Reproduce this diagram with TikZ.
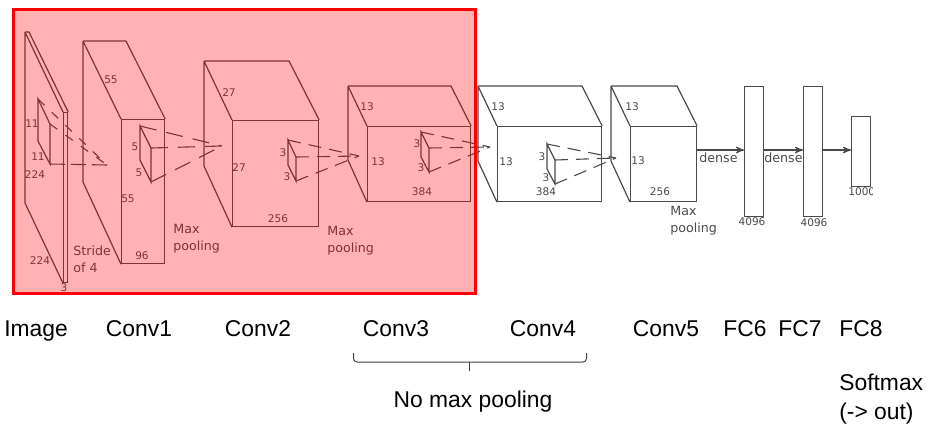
\documentclass[tikz,border=0pt]{standalone}
\usepackage{fontspec}
\setmainfont{Liberation Sans}
\newfontfamily\netfont{DejaVu Sans}
\usetikzlibrary{arrows}
\definecolor{netline}{HTML}{4A4A4A}
\tikzset{
  >=stealth',
  x=0.02cm,
  y=-0.02cm,
  every edge/.style={draw=netline, line width=1.2*0.02cm},
  net/.style={draw=netline, line width=1.2*0.02cm},
  face/.style args={#1x#2}{net, anchor=north west, inner sep=0pt, minimum width=#1*0.02cm, minimum height=#2*0.02cm},
  rays/.style args={#1off#2}{draw=netline, line width=1.1*0.02cm, dash pattern=on #1*0.02cm off #2*0.02cm},
  dim/.style={text=netline, font=\netfont\fontsize{6}{7}\selectfont, inner sep=0pt},
  note/.style={text=netline, font=\netfont\fontsize{7.2}{9.6}\selectfont, inner sep=0pt, align=left, anchor=west},
  caption/.style={font=\fontsize{13}{16.4}\selectfont, inner sep=0pt, anchor=base},
  bracket/.style={draw=black!75, line width=0.02cm, rounded corners=0.07cm},
}

\begin{document}
\begin{tikzpicture}
        \useasboundingbox (0,0) rectangle (927,427);

        % image plate
        \node[face=4x170] (imf) at (63,112) {};
        \coordinate (ima) at (25,32);
        \coordinate (imb) at (29,32);
        \coordinate (imc) at (25,203);
        \coordinate (ika) at (38,99);
        \coordinate (ikb) at (50,124);
        \coordinate (ikc) at (50,164);
        \coordinate (ikd) at (38,141);
        \coordinate (ito) at (107,165);
        \draw[net] (ima) -- (imb) -- (imf.north east)
                   (ima) -- (imf.north west)
                   (ima) -- (imc) -- (imf.south west);
        \draw[net] (ika) -- (ikb) -- (ikc) -- (ikd) -- cycle;
        \draw[rays=9off10] (ika) -- (ito) (ikb) -- (ito);
        \draw[rays=15off6] (ikc) -- (ito);

        % conv1
        \node[face=43x144] (c1f) at (121,119) {};
        \coordinate (c1a) at (83,41);
        \coordinate (c1b) at (126,41);
        \coordinate (c1c) at (83,182);
        \coordinate (c1p) at (140,126);
        \coordinate (c1q) at (151,148);
        \coordinate (c1r) at (151,182);
        \coordinate (c1s) at (140,160);
        \coordinate (c1to) at (222,146);
        \draw[net] (c1a) -- (c1b) -- (c1f.north east)
                   (c1a) -- (c1f.north west)
                   (c1a) -- (c1c) -- (c1f.south west);
        \draw[net] (c1p) -- (c1q) -- (c1r) -- (c1s) -- cycle;
        \draw[rays=17off10] (c1p) -- (c1to) (c1q) -- (c1to) (c1r) -- (c1to);

        % conv2
        \node[face=86x106] (c2f) at (232,120) {};
        \coordinate (c2a) at (204,61);
        \coordinate (c2b) at (289,61);
        \coordinate (c2c) at (204,166);
        \coordinate (c2p) at (288,140);
        \coordinate (c2q) at (296,157);
        \coordinate (c2r) at (296,181);
        \coordinate (c2s) at (288,165);
        \coordinate (c2to) at (359,156);
        \draw[net] (c2a) -- (c2b) -- (c2f.north east)
                   (c2a) -- (c2f.north west)
                   (c2a) -- (c2c) -- (c2f.south west);
        \draw[net] (c2p) -- (c2q) -- (c2r) -- (c2s) -- cycle;
        \draw[rays=13off8] (c2p) -- (c2to) (c2q) -- (c2to) (c2r) -- (c2to);

        % conv3
        \node[face=103x75] (c3f) at (367,126) {};
        \coordinate (c3a) at (348,86);
        \coordinate (c3b) at (451,86);
        \coordinate (c3c) at (348,160);
        \coordinate (c3p) at (421,132);
        \coordinate (c3q) at (429,148);
        \coordinate (c3r) at (429,172);
        \coordinate (c3s) at (421,157);
        \coordinate (c3to) at (490,147);
        \draw[net] (c3a) -- (c3b) -- (c3f.north east)
                   (c3a) -- (c3f.north west)
                   (c3a) -- (c3c) -- (c3f.south west);
        \draw[net] (c3p) -- (c3q) -- (c3r) -- (c3s) -- cycle;
        \draw[rays=13off8] (c3p) -- (c3to) (c3q) -- (c3to) (c3r) -- (c3to);

        % conv4
        \node[face=104x75] (c4f) at (497,126) {};
        \coordinate (c4a) at (478,86);
        \coordinate (c4b) at (582,86);
        \coordinate (c4c) at (478,161);
        \coordinate (c4p) at (547,144);
        \coordinate (c4q) at (555,160);
        \coordinate (c4r) at (555,184);
        \coordinate (c4s) at (547,169);
        \coordinate (c4to) at (616,158);
        \draw[net] (c4a) -- (c4b) -- (c4f.north east)
                   (c4a) -- (c4f.north west)
                   (c4a) -- (c4c) -- (c4f.south west);
        \draw[net] (c4p) -- (c4q) -- (c4r) -- (c4s) -- cycle;
        \draw[rays=13off8] (c4p) -- (c4to) (c4q) -- (c4to) (c4r) -- (c4to);

        % conv5
        \node[face=66x75] (c5f) at (630,126) {};
        \coordinate (c5a) at (611,86);
        \coordinate (c5b) at (677,86);
        \coordinate (c5c) at (611,161);
        \draw[net] (c5a) -- (c5b) -- (c5f.north east)
                   (c5a) -- (c5f.north west)
                   (c5a) -- (c5c) -- (c5f.south west);

        % dense layers
        \node[face=19x130] (fc6) at (744,86) {};
        \node[face=19x130] (fc7) at (803,86) {};
        \node[face=19x70] (fc8) at (851,116) {};
        \coordinate (c5out) at (696,150);
        \coordinate (fc6in) at (744,150);
        \coordinate (fc6out) at (763,150);
        \coordinate (fc7in) at (803,150);
        \coordinate (fc7out) at (822,150);
        \coordinate (fc8in) at (851,150);
        \draw (c5out) edge[->] (fc6in)
              (fc6out) edge[->] (fc7in)
              (fc7out) edge[->] (fc8in);

        % sizes
        \node[dim] (d1) at (32,124) {11};
        \node[dim] (d2) at (38,157) {11};
        \node[dim] (d3) at (35,175) {224};
        \node[dim] (d4) at (40,261) {224};
        \node[dim] (d5) at (64,288) {3};
        \node[dim] (d6) at (111,80) {55};
        \node[dim] (d7) at (128,199) {55};
        \node[dim] (d8) at (142,256) {96};
        \node[dim] (d9) at (135,147) {5};
        \node[dim] (d10) at (139,173) {5};
        \node[dim] (d11) at (229,93) {27};
        \node[dim] (d12) at (239,168) {27};
        \node[dim] (d13) at (278,219) {256};
        \node[dim] (d14) at (283,153) {3};
        \node[dim] (d15) at (287,177) {3};
        \node[dim] (d16) at (367,107) {13};
        \node[dim] (d17) at (378,162) {13};
        \node[dim] (d18) at (422,192) {384};
        \node[dim] (d19) at (417,144) {3};
        \node[dim] (d20) at (421,168) {3};
        \node[dim] (d21) at (498,107) {13};
        \node[dim] (d22) at (506,162) {13};
        \node[dim] (d23) at (546,192) {384};
        \node[dim] (d24) at (542,157) {3};
        \node[dim] (d25) at (546,178) {3};
        \node[dim] (d26) at (632,107) {13};
        \node[dim] (d27) at (638,161) {13};
        \node[dim] (d28) at (660,192) {256};
        \node[dim] (d29) at (752,222) {4096};
        \node[dim] (d30) at (814,223) {4096};
        \begin{scope}
          \clip (840,180) rectangle (872.5,205);
          \node[dim, anchor=west] (d31) at (848,192) {1000};
        \end{scope}

        % notes
        \node[note] (stride) at (73,259) {Stride\\of 4};
        \node[note] (pool1) at (173,238.5) {Max\\pooling};
        \node[note] (pool2) at (327,240.5) {Max\\pooling};
        \node[note] (pool3) at (670,220.5) {Max\\pooling};
        \node[note] (dense1) at (699,158) {dense};
        \node[note] (dense2) at (764,158) {dense};

        % highlight
        \node[draw=red, fill=red, fill opacity=0.3, draw opacity=1, line width=3*0.02cm,
              anchor=north west, inner sep=0pt, outer sep=0pt, minimum width=461.5*0.02cm, minimum height=284.5*0.02cm] (mark) at (13.5,9) {};

        % captions
        \node[caption] (cimg) at (36,336) {Image};
        \node[caption] (cc1) at (139,336) {Conv1};
        \node[caption] (cc2) at (258,336) {Conv2};
        \node[caption] (cc3) at (396,336) {Conv3};
        \node[caption] (cc4) at (543,336) {Conv4};
        \node[caption] (cc5) at (666,336) {Conv5};
        \node[caption] (cf6) at (745,336) {FC6};
        \node[caption] (cf7) at (800,336) {FC7};
        \node[caption] (cf8) at (861,336) {FC8};
        \coordinate (bleft) at (353.5,353);
        \coordinate (bcornl) at (353.5,362);
        \coordinate (bcornr) at (586.5,362);
        \coordinate (bright) at (586.5,353);
        \coordinate (bmid) at (469.5,362);
        \coordinate (btip) at (469.5,371);
        \draw[bracket] (bleft) -- (bcornl) -- (bcornr) -- (bright);
        \draw[bracket] (bmid) -- (btip);
        \node[caption] (cnomax) at (473,407) {No max pooling};
        \node[caption, align=left, anchor=west] (csoft) at (839,399) {Softmax\\(-> out)};
\end{tikzpicture}
\end{document}
